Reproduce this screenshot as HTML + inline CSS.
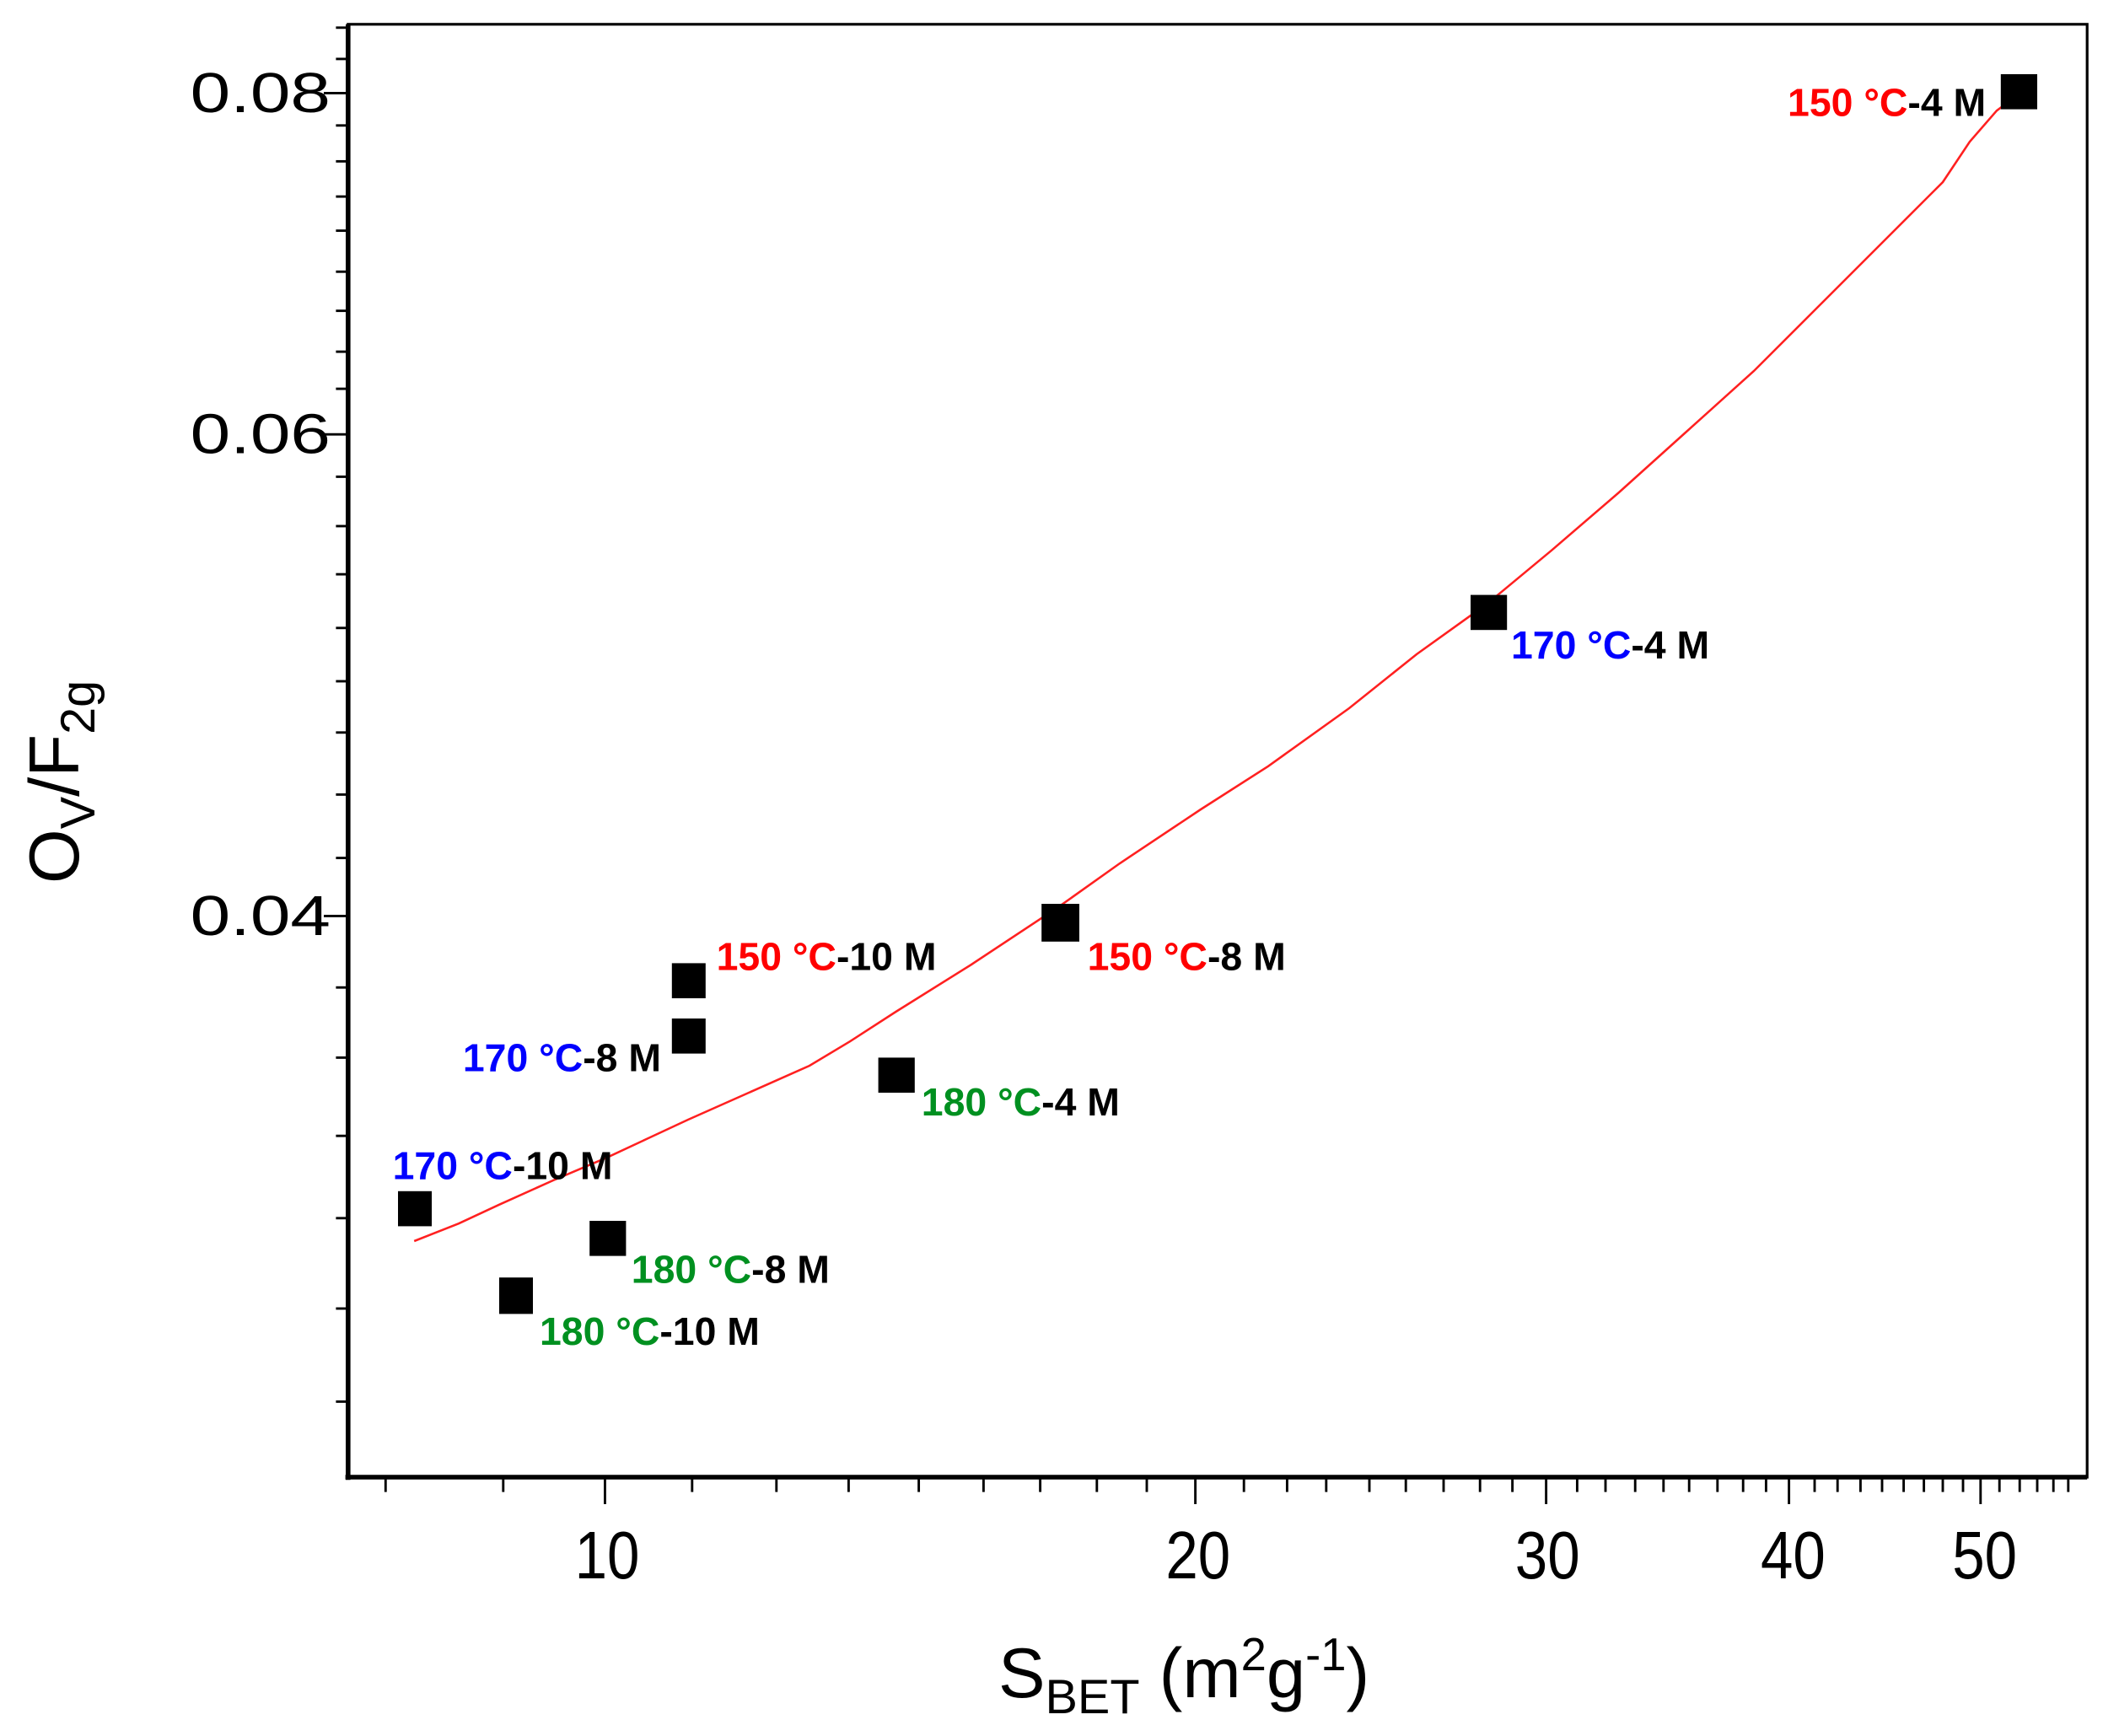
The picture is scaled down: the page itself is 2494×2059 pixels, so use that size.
<!DOCTYPE html>
<html><head><meta charset="utf-8"><style>
html,body{margin:0;padding:0;background:#fff;}
svg{display:block;}
text{font-family:"Liberation Sans",Arial,sans-serif;}
.lb{font-weight:bold;font-size:29px;}
</style></head><body>
<svg width="2494" height="2059" viewBox="0 0 1558.75 1286.875" xmlns="http://www.w3.org/2000/svg">
<rect width="1558.75" height="1286.875" fill="#fff"/>
<rect x="258" y="18" width="1289" height="1077" fill="none" stroke="#000" stroke-width="2"/>
<line x1="258" y1="18" x2="258" y2="1097" stroke="#000" stroke-width="3.5"/>
<line x1="256" y1="1095" x2="1547" y2="1095" stroke="#000" stroke-width="3.5"/>
<g stroke="#000" stroke-width="1.8">
<line x1="240" y1="69" x2="258" y2="69"/>
<line x1="240" y1="322" x2="258" y2="322"/>
<line x1="240" y1="679" x2="258" y2="679"/>
<g>
<line x1="249" y1="20.5" x2="258" y2="20.5"/><line x1="249" y1="43.7" x2="258" y2="43.7"/>
<line x1="249" y1="93" x2="258" y2="93"/><line x1="249" y1="119.6" x2="258" y2="119.6"/>
<line x1="249" y1="145.7" x2="258" y2="145.7"/><line x1="249" y1="171" x2="258" y2="171"/>
<line x1="249" y1="201.4" x2="258" y2="201.4"/><line x1="249" y1="230.4" x2="258" y2="230.4"/>
<line x1="249" y1="260.7" x2="258" y2="260.7"/><line x1="249" y1="288.2" x2="258" y2="288.2"/>
<line x1="249" y1="353.4" x2="258" y2="353.4"/><line x1="249" y1="390" x2="258" y2="390"/>
<line x1="249" y1="425.7" x2="258" y2="425.7"/><line x1="249" y1="465.5" x2="258" y2="465.5"/>
<line x1="249" y1="505" x2="258" y2="505"/><line x1="249" y1="543" x2="258" y2="543"/>
<line x1="249" y1="589" x2="258" y2="589"/><line x1="249" y1="636" x2="258" y2="636"/>
<line x1="249" y1="732" x2="258" y2="732"/><line x1="249" y1="784" x2="258" y2="784"/>
<line x1="249" y1="842" x2="258" y2="842"/><line x1="249" y1="903" x2="258" y2="903"/>
<line x1="249" y1="970" x2="258" y2="970"/><line x1="249" y1="1039" x2="258" y2="1039"/>
</g>
</g>
<g stroke="#000" stroke-width="1.8">
<line x1="448.4" y1="1095" x2="448.4" y2="1115"/>
<line x1="886" y1="1095" x2="886" y2="1115"/>
<line x1="1146" y1="1095" x2="1146" y2="1115"/>
<line x1="1326" y1="1095" x2="1326" y2="1115"/>
<line x1="1468" y1="1095" x2="1468" y2="1115"/>
<g>
<line x1="285.8" y1="1095" x2="285.8" y2="1106"/><line x1="373" y1="1095" x2="373" y2="1106"/>
<line x1="513" y1="1095" x2="513" y2="1106"/><line x1="575.5" y1="1095" x2="575.5" y2="1106"/>
<line x1="629" y1="1095" x2="629" y2="1106"/><line x1="681" y1="1095" x2="681" y2="1106"/>
<line x1="729" y1="1095" x2="729" y2="1106"/><line x1="771" y1="1095" x2="771" y2="1106"/>
<line x1="813" y1="1095" x2="813" y2="1106"/><line x1="850" y1="1095" x2="850" y2="1106"/>
<line x1="922" y1="1095" x2="922" y2="1106"/><line x1="954" y1="1095" x2="954" y2="1106"/>
<line x1="983" y1="1095" x2="983" y2="1106"/><line x1="1015" y1="1095" x2="1015" y2="1106"/>
<line x1="1042" y1="1095" x2="1042" y2="1106"/><line x1="1070" y1="1095" x2="1070" y2="1106"/>
<line x1="1097" y1="1095" x2="1097" y2="1106"/><line x1="1121" y1="1095" x2="1121" y2="1106"/>
<line x1="1169" y1="1095" x2="1169" y2="1106"/><line x1="1190" y1="1095" x2="1190" y2="1106"/>
<line x1="1212" y1="1095" x2="1212" y2="1106"/><line x1="1233" y1="1095" x2="1233" y2="1106"/>
<line x1="1252" y1="1095" x2="1252" y2="1106"/><line x1="1273" y1="1095" x2="1273" y2="1106"/>
<line x1="1292" y1="1095" x2="1292" y2="1106"/><line x1="1309" y1="1095" x2="1309" y2="1106"/>
<line x1="1345" y1="1095" x2="1345" y2="1106"/><line x1="1362" y1="1095" x2="1362" y2="1106"/>
<line x1="1379" y1="1095" x2="1379" y2="1106"/><line x1="1395" y1="1095" x2="1395" y2="1106"/>
<line x1="1411" y1="1095" x2="1411" y2="1106"/><line x1="1426" y1="1095" x2="1426" y2="1106"/>
<line x1="1440" y1="1095" x2="1440" y2="1106"/><line x1="1455" y1="1095" x2="1455" y2="1106"/>
<line x1="1482" y1="1095" x2="1482" y2="1106"/><line x1="1497" y1="1095" x2="1497" y2="1106"/>
<line x1="1510" y1="1095" x2="1510" y2="1106"/><line x1="1522" y1="1095" x2="1522" y2="1106"/>
<line x1="1533" y1="1095" x2="1533" y2="1106"/>
</g>
</g>
<g font-size="42" text-anchor="end" fill="#000">
<text x="245" y="83" textLength="104" lengthAdjust="spacingAndGlyphs">0.08</text>
<text x="245" y="336" textLength="104" lengthAdjust="spacingAndGlyphs">0.06</text>
<text x="245" y="693" textLength="104" lengthAdjust="spacingAndGlyphs">0.04</text>
</g>
<g font-size="50" text-anchor="middle" fill="#000">
<text x="450" y="1170" textLength="48" lengthAdjust="spacingAndGlyphs">10</text>
<text x="888" y="1170" textLength="48" lengthAdjust="spacingAndGlyphs">20</text>
<text x="1147" y="1170" textLength="48" lengthAdjust="spacingAndGlyphs">30</text>
<text x="1329" y="1170" textLength="48" lengthAdjust="spacingAndGlyphs">40</text>
<text x="1471" y="1170" textLength="48" lengthAdjust="spacingAndGlyphs">50</text>
</g>
<text x="740" y="1258" font-size="52" fill="#000">S<tspan font-size="36" dy="12">BET</tspan><tspan dy="-12"> (m</tspan><tspan font-size="34" dy="-20">2</tspan><tspan dy="20">g</tspan><tspan font-size="34" dy="-20">-1</tspan><tspan dy="20">)</tspan></text>
<text transform="translate(58,655) rotate(-90)" font-size="52" fill="#000">O<tspan font-size="36" dy="12">V</tspan><tspan dy="-12">/F</tspan><tspan font-size="36" dy="12">2g</tspan></text>
<polyline fill="none" stroke="#ff2020" stroke-width="1.6" points="307,920 340,907 370,893 410,875 450,858 480,844 510,830 555,810 600,790 630,772 664,750 720,715 785,672 830,640 890,600 940,568 1000,525 1050,485 1103,447 1150,408 1200,365 1250,320 1300,275 1350,225 1400,175 1440,135 1460,105 1480,82 1496,70"/>
<g fill="#000">
<rect x="1483" y="55" width="27" height="26"/>
<rect x="1090" y="441" width="27" height="26"/>
<rect x="772" y="670" width="28" height="28"/>
<rect x="498" y="714" width="25" height="26"/>
<rect x="498" y="755" width="25" height="26"/>
<rect x="651" y="784" width="27" height="26"/>
<rect x="295" y="883" width="25" height="26"/>
<rect x="437" y="905" width="27" height="26"/>
<rect x="370" y="947" width="25" height="27"/>
</g>
<g class="lb">
<text x="1472" y="86" text-anchor="end"><tspan fill="#ff0000">150 °C</tspan><tspan fill="#000">-4 M</tspan></text>
<text x="1120" y="488"><tspan fill="#0000ff">170 °C</tspan><tspan fill="#000">-4 M</tspan></text>
<text x="806" y="719"><tspan fill="#ff0000">150 °C</tspan><tspan fill="#000">-8 M</tspan></text>
<text x="531" y="719"><tspan fill="#ff0000">150 °C</tspan><tspan fill="#000">-10 M</tspan></text>
<text x="490" y="794" text-anchor="end"><tspan fill="#0000ff">170 °C</tspan><tspan fill="#000">-8 M</tspan></text>
<text x="683" y="827"><tspan fill="#009020">180 °C</tspan><tspan fill="#000">-4 M</tspan></text>
<text x="291" y="874"><tspan fill="#0000ff">170 °C</tspan><tspan fill="#000">-10 M</tspan></text>
<text x="468" y="951"><tspan fill="#009020">180 °C</tspan><tspan fill="#000">-8 M</tspan></text>
<text x="400" y="997"><tspan fill="#009020">180 °C</tspan><tspan fill="#000">-10 M</tspan></text>
</g>
</svg>
</body></html>
